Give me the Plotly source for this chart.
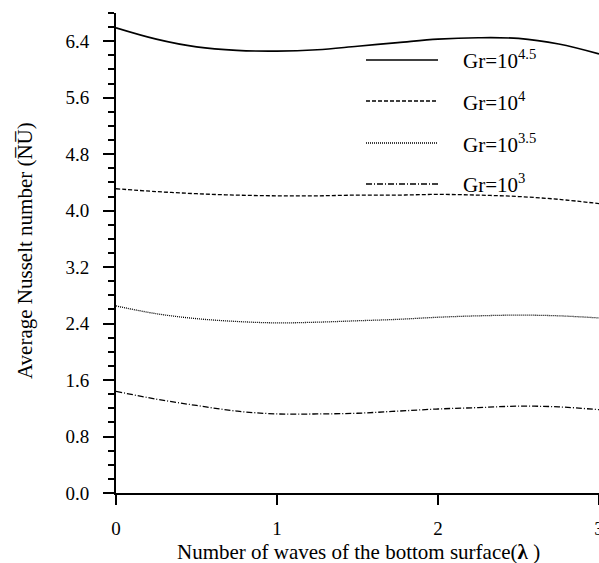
import plotly.graph_objects as go

lam = [0, 0.25, 0.5, 0.75, 1.0, 1.25, 1.5, 1.75, 2.0, 2.25, 2.5, 2.75, 3.0]
nu_45 = [6.59, 6.43, 6.32, 6.27, 6.26, 6.28, 6.33, 6.38, 6.43, 6.45, 6.44, 6.36, 6.22]
nu_40 = [4.31, 4.27, 4.24, 4.22, 4.21, 4.21, 4.22, 4.22, 4.23, 4.22, 4.20, 4.16, 4.10]
nu_35 = [2.65, 2.54, 2.47, 2.43, 2.41, 2.42, 2.44, 2.46, 2.49, 2.51, 2.52, 2.51, 2.48]
nu_30 = [1.44, 1.33, 1.24, 1.16, 1.12, 1.12, 1.13, 1.16, 1.19, 1.21, 1.23, 1.22, 1.18]

series_names = ["Gr=10<sup>4.5</sup>", "Gr=10<sup>4</sup>", "Gr=10<sup>3.5</sup>", "Gr=10<sup>3</sup>"]
series_vals = [nu_45, nu_40, nu_35, nu_30]
dashes = ["solid", "4px,2px", "1px,1px", "6px,2px,1px,2px"]
widths = [1.6, 1.3, 1.3, 1.3]

y_ticks = [0.0, 0.8, 1.6, 2.4, 3.2, 4.0, 4.8, 5.6, 6.4]
x_ticks = [0, 1, 2, 3]

FONT = "Liberation Serif"

fig = go.Figure()
for name, vals, d, w in zip(series_names, series_vals, dashes, widths):
    fig.add_trace(go.Scatter(x=lam, y=vals, mode="lines", name=name,
                             line=dict(color="black", width=w, dash=d, shape="spline"),
                             showlegend=False))

# manual legend
leg_y = [60, 101, 143, 184]
for name, d, w, yy in zip(series_names, dashes, widths, leg_y):
    fig.add_shape(type="line", xref="paper", yref="paper",
                  x0=(366 - 116) / 483, x1=(438 - 116) / 483,
                  y0=(493 - yy) / 480, y1=(493 - yy) / 480,
                  line=dict(color="black", width=w, dash=d))
    fig.add_annotation(text=name, xref="paper", yref="paper",
                       x=(461 - 116) / 483, y=(493 - yy) / 480,
                       xanchor="left", yanchor="middle", showarrow=False,
                       font=dict(family=FONT, size=21, color="black"))

fig.add_annotation(text="Average Nusselt number (N\u0305U\u0305)", xref="paper", yref="paper",
                   x=(25 - 116) / 483, y=(493 - 251) / 480, textangle=-90,
                   xanchor="center", yanchor="middle", showarrow=False,
                   font=dict(family=FONT, size=21, color="black"))
fig.add_annotation(text="Number of waves of the bottom surface(<b>λ</b> )", xref="paper", yref="paper",
                   x=(358 - 116) / 483, y=(493 - 552) / 480,
                   xanchor="center", yanchor="middle", showarrow=False,
                   font=dict(family=FONT, size=21, color="black"))

fig.update_layout(
    width=599, height=563,
    margin=dict(l=116, r=0, t=13, b=70),
    paper_bgcolor="white", plot_bgcolor="white",
    font=dict(family=FONT, size=19, color="black"),
    xaxis=dict(range=[0, 3], tickvals=x_ticks, ticktext=[str(v) for v in x_ticks],
               showgrid=False, zeroline=False, showline=True, linecolor="black", linewidth=2,
               ticks="outside", ticklen=10, tickwidth=1.5, tickcolor="black",
               ticklabelstandoff=7, automargin=False, ticklabeloverflow="allow",
               tickfont=dict(family=FONT, size=19)),
    yaxis=dict(range=[0, 6.8], tickvals=y_ticks, ticktext=[f"{v:.1f}" for v in y_ticks],
               showgrid=False, zeroline=False, showline=True, linecolor="black", linewidth=2,
               ticks="outside", ticklen=11, tickwidth=1.5, tickcolor="black",
               ticklabelstandoff=10, automargin=False,
               minor=dict(dtick=0.2, tick0=0, ticks="outside", ticklen=6, tickwidth=1.5, tickcolor="black", showgrid=False),
               tickfont=dict(family=FONT, size=19)),
)

fig.write_html("out.html")
